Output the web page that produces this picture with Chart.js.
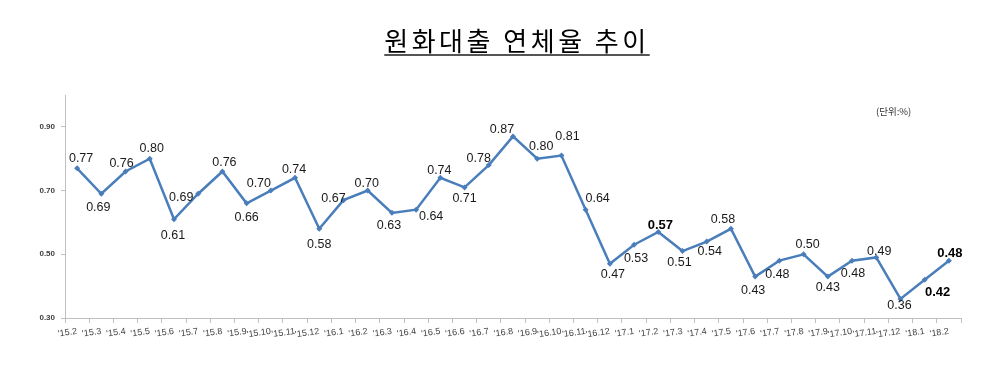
<!DOCTYPE html>
<html>
<head>
<meta charset="utf-8">
<script src="https://cdn.jsdelivr.net/npm/chart.js@4/dist/chart.umd.min.js"></script>
<style>
  html, body { margin: 0; padding: 0; background: #fff; }
  #wrap { position: relative; width: 1000px; height: 373px; }
  #title { position: absolute; left: 0; width: 1034px; top: 25px; text-align: center;
    font-family: "Noto Sans CJK KR", sans-serif; font-size: 26px; letter-spacing: 3.5px; color: #000; line-height: 30px; }
  #title span { text-decoration: underline; text-decoration-thickness: 2px; text-decoration-color: #555; text-underline-offset: 3px; }
  #unit { position: absolute; left: 876px; top: 104px; font-family: "Noto Sans CJK KR", sans-serif; font-size: 9.5px; color: #333; }
  canvas { position: absolute; left: 0; top: 0; }
</style>
</head>
<body>
<div id="wrap">
  <canvas id="c" width="1000" height="373"></canvas>
  <div id="title"><span>원화대출 연체율 추이</span></div>
  <div id="unit">(단위:%)</div>
</div>
<script>
const categories = ["'15.2","'15.3","'15.4","'15.5","'15.6","'15.7","'15.8","'15.9","'15.10","'15.11","'15.12",
  "'16.1","'16.2","'16.3","'16.4","'16.5","'16.6","'16.7","'16.8","'16.9","'16.10","'16.11","'16.12",
  "'17.1","'17.2","'17.3","'17.4","'17.5","'17.6","'17.7","'17.8","'17.9","'17.10","'17.11","'17.12",
  "'18.1","'18.2"];
const delinquencyRate = [0.77,0.69,0.76,0.80,0.61,0.69,0.76,0.66,0.70,0.74,0.58,
  0.67,0.70,0.63,0.64,0.74,0.71,0.78,0.87,0.80,0.81,0.64,0.47,
  0.53,0.57,0.51,0.54,0.58,0.43,0.48,0.50,0.43,0.48,0.49,0.36,
  0.42,0.48];
const yTickValues = [0.30,0.50,0.70,0.90];
const boldLabels = [24, 35, 36];
// label offsets (dx, dy) relative to each point
const labelOffsets = [[4,-10],[-3,14],[-4,-8],[2,-10],[-1,16],[-17,4],[2,-9],[0,14],[-12,-7],[-1,-8],[0,16],
  [-10,-2],[-1,-7],[-3,13],[15,7],[-1,-7],[0,11],[-10,-7],[-11,-7],[4,-12],[6,-19],[12,-11],[3,11],
  [2,14],[2,-7],[-3,11],[3,10],[-8,-9],[-2,14],[-2,14],[4,-10],[0,11],[1,13],[3,-6],[-1,7],
  [13,13],[1,-7]];

const labelPlugin = {
  id: 'pointLabels',
  afterDatasetsDraw(chart) {
    const ctx = chart.ctx;
    const meta = chart.getDatasetMeta(0);
    ctx.save();
    ctx.textAlign = 'center';
    ctx.textBaseline = 'middle';
    meta.data.forEach((pt, i) => {
      const off = labelOffsets[i];
      const bold = boldLabels.includes(i);
      ctx.font = (bold ? 'bold 13px' : '12.5px') + ' "Liberation Sans", Arial, sans-serif';
      ctx.fillStyle = bold ? '#000' : '#1a1a1a';
      ctx.fillText(delinquencyRate[i].toFixed(2), pt.x + off[0], pt.y + off[1]);
    });
    ctx.restore();
  }
};

new Chart(document.getElementById('c'), {
  type: 'line',
  data: {
    labels: categories,
    datasets: [{
      data: delinquencyRate,
      borderColor: '#4a7ebb',
      backgroundColor: '#4a7ebb',
      borderWidth: 2.5,
      pointStyle: 'rectRot',
      pointRadius: 3,
      pointBorderWidth: 0,
      tension: 0
    }]
  },
  options: {
    responsive: false,
    animation: false,
    layout: { padding: { top: 95, right: 39, left: 0, bottom: 0 } },
    plugins: { legend: { display: false }, tooltip: { enabled: false }, title: { display: false } },
    scales: {
      x: {
        type: 'category',
        offset: true,
        grid: { display: true, drawOnChartArea: false, drawTicks: true, tickLength: 5, color: '#bfbfbf', offset: true },
        border: { color: '#bfbfbf', width: 1 },
        ticks: { autoSkip: false, minRotation: 8, maxRotation: 8, color: '#404040', padding: 3,
          font: { family: '"Liberation Sans", Arial, sans-serif', size: 9 } },
        afterFit(scale) { scale.height = 55; }
      },
      y: {
        min: 0.3, max: 1.0,
        afterBuildTicks(scale) { scale.ticks = yTickValues.map(v => ({ value: v })); },
        grid: { display: true, drawOnChartArea: false, drawTicks: true, tickLength: 4, color: '#bfbfbf' },
        border: { color: '#bfbfbf', width: 1 },
        ticks: { color: '#404040', padding: 6, callback: v => Number(v).toFixed(2),
          font: { family: '"Liberation Sans", Arial, sans-serif', size: 8, weight: 'bold' } },
        afterFit(scale) { scale.width = 65; }
      }
    }
  },
  plugins: [labelPlugin]
});
</script>
</body>
</html>
